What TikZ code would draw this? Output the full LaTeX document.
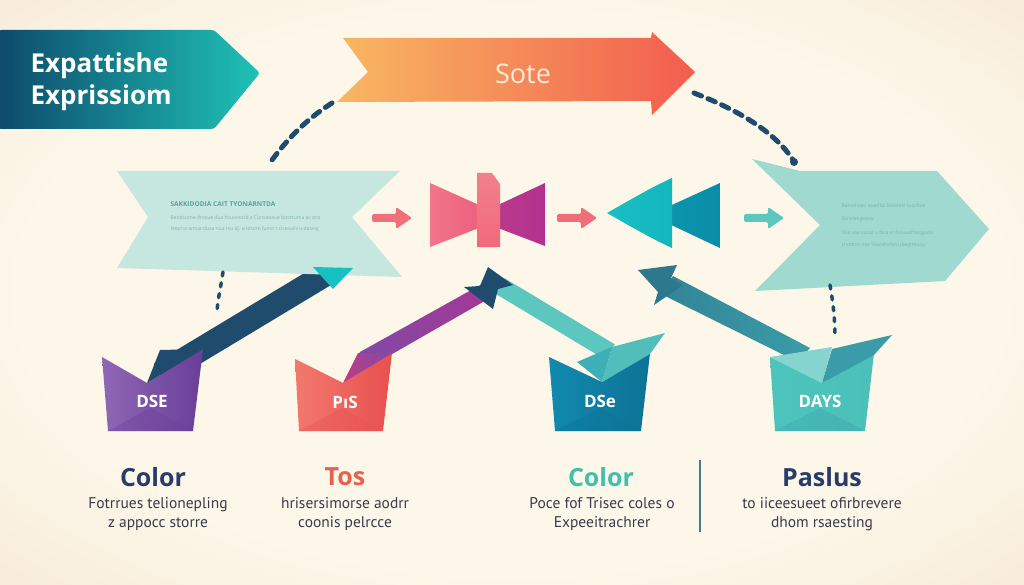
\documentclass[tikz,border=0pt]{standalone}
\usepackage{fontspec}
\setmainfont{Open Sans}
\newfontfamily\bodyfont{PT Sans}
\definecolor{bgc}{HTML}{FCF7E9}
\definecolor{bge}{HTML}{F4E2CE}
\definecolor{bgf}{HTML}{EDCDB2}
\definecolor{tealdark}{HTML}{0E4A6C}
\definecolor{tealmid}{HTML}{17A8AA}
\definecolor{teallt}{HTML}{1FC2B6}
\definecolor{orangeL}{HTML}{F8B862}
\definecolor{orangeR}{HTML}{F25D4F}
\definecolor{navy}{HTML}{1F4C6C}
\definecolor{mint}{HTML}{C6E7DF}
\definecolor{mintR}{HTML}{A0D9D0}
\definecolor{coral}{HTML}{F0707A}
\definecolor{pinkL}{HTML}{F2667C}
\definecolor{pinkC}{HTML}{F06A7A}
\definecolor{magenta}{HTML}{B1318F}
\definecolor{tealA}{HTML}{17C0C3}
\definecolor{tealB}{HTML}{0A8DA8}
\definecolor{tealArr}{HTML}{5CC7BE}
\definecolor{purpleBox}{HTML}{7B4CA8}
\definecolor{purpleDk}{HTML}{6A3E98}
\definecolor{coralBox}{HTML}{F06A5E}
\definecolor{coralDk}{HTML}{E8504E}
\definecolor{blueBox}{HTML}{1289AE}
\definecolor{blueDk}{HTML}{0C7396}
\definecolor{tealBox}{HTML}{4CC4BB}
\definecolor{tealFlap}{HTML}{3A9CA8}
\definecolor{bodytext}{HTML}{3A3A4A}
\definecolor{tinytext}{HTML}{5F9EA0}
\definecolor{headnavy}{HTML}{283C6A}
\definecolor{headteal}{HTML}{3EBFB0}
\definecolor{headcoral}{HTML}{E8604F}
\definecolor{divider}{HTML}{4C7C82}
\pgfdeclareradialshading{bgshade}{\pgfpoint{0bp}{0bp}}{color(0bp)=(bgc); color(24bp)=(bgc); color(46bp)=(bge); color(68bp)=(bgf)}
\tikzset{
  dashlink/.style={navy, line width=5pt, line cap=round, dash pattern=on 8pt off 7pt},
  dotlink/.style={navy, line width=3.5pt, line cap=round, dash pattern=on 4pt off 7pt},
  bandline/.style={line width=#1, line cap=butt},
  boxlabel/.style={text=white, font=\fontsize{17}{17}\selectfont\bfseries},
  headlabel/.style={font=\fontsize{25}{25}\selectfont\bfseries},
  bodylabel/.style={text=bodytext, font=\bodyfont\fontsize{15.5}{17}\selectfont, align=center},
  tinyhead/.style={text=tinytext, font=\fontsize{6.6}{6.6}\selectfont\bfseries, anchor=base west},
  tinyline/.style={text=tinytext!80, font=\fontsize{5}{5}\selectfont, anchor=base west},
}
\begin{document}
\begin{tikzpicture}[x=1pt,y=-1pt]
\useasboundingbox (0,0) rectangle (1024,585);
\fill[shading=bgshade] (0,0) rectangle (1024,585);

% ---- top-left teal banner
\shade[left color=tealdark, middle color=tealmid, right color=teallt, rounded corners=3pt]
  (-2,30) -- (214,30) -- (260,73) -- (214,129) -- (-2,129) -- cycle;
\node[anchor=base west, text=white, font=\fontsize{26}{26}\selectfont\bfseries] (title1) at (27,73) {Expattishe};
\node[anchor=base west, text=white, font=\fontsize{26}{26}\selectfont\bfseries] (title2) at (27,105) {Exprissiom};

% ---- orange arrow
\shade[left color=orangeL, right color=orangeR]
  (343,38) -- (651,38) -- (652,32) -- (695,72) -- (652,115) -- (651,101) -- (337,102) -- (368,72) -- cycle;
\node[text=orangeL!25!white, font=\fontsize{27}{27}\selectfont] (sote) at (523,74) {Sote};
\coordinate (oL) at (332,103);
\coordinate (oR) at (694,93);

% ---- connectors hidden under banners
\coordinate (b1a) at (160,374);
\coordinate (b1b) at (336,268);
\draw[navy, bandline=24pt] (b1a) -- (b1b);
\coordinate (b2a) at (352,372);
\coordinate (b2b) at (478,292);
\shade[left color=purpleBox, right color=magenta!80!purpleBox] (345,381) -- (360,352) -- (482,284) -- (490,298) -- cycle;
\coordinate (b3a) at (610,352);
\coordinate (b3b) at (500,286);
\draw[tealArr, bandline=18pt] (b3a) -- (b3b);
\fill[navy] (488,267) -- (513,285) -- (498,289) -- (493,309) -- (464,287) -- (480,286) -- cycle;
\coordinate (b4a) at (804,356);
\coordinate (b4b) at (668,287);
\shade[left color=tealFlap!70!navy, right color=tealFlap] (661,294) -- (673,276) -- (810,348) -- (798,362) -- cycle;
\fill[tealFlap!55!navy] (638,270) -- (677,265) -- (671,278) -- (683,285) -- (654,305) -- (658,292) -- cycle;

% ---- left mint banner
\fill[mint] (117,171) -- (400,171) -- (352,217) -- (402,277) -- (117,268) -- (148,217) -- cycle;
\fill[tealA!80!teallt] (313,267) -- (353,268) -- (333,289) -- cycle;
\node[tinyhead] (lhead) at (167,207) {SAKKIDODIA CAIT TYONARNTDA};
\node[tinyline] (l1) at (167,220) {Bendsome drosue dua hsuoreatd a Cunsaeaue bostsuma as ons};
\node[tinyline] (l2) at (167,231) {Nesmo amua dusa nua rsu dj. e Idsom fumn t cisesulis u dasing};

% ---- right mint banner
\fill[mintR] (752,159) -- (800,171) -- (937,171) -- (989,229) -- (945,281) -- (755,291) -- (820,225) -- cycle;
\node[tinyline] (r1) at (838,208) {Bensthaeo auedfal fabenrsl tucchoe};
\node[tinyline] (r2) at (838,221) {Bsnsleegessw};
\node[tinyline] (r3) at (838,234) {Ose ase susat u fara sr fosuusfnaoguds};
\node[tinyline] (r4) at (838,247) {Lrsbbrsl nse Ssucshofas ubegtmusu};

% ---- dashed links
\draw[dashlink] (oL) .. controls (305,120) and (286,141) .. (272,160);
\draw[dashlink] (oR) .. controls (738,110) and (775,132) .. (793,160);
\fill[navy] (794,162) circle (4pt);
\coordinate (rb) at (830,285);
\coordinate (rbe) at (835,337);
\draw[dotlink] (rb) .. controls (833,302) and (835,320) .. (rbe);
\coordinate (lb) at (223,272);
\coordinate (lbe) at (217,311);
\draw[dotlink] (lb) .. controls (221,286) and (218,298) .. (lbe);

% ---- small arrows
\tikzset{smallarrow/.pic={
  \fill[pic actions, rounded corners=1.5pt] (-20,-4) -- (4,-4) -- (4,-11) -- (20,0) -- (4,11) -- (4,4) -- (-20,4) -- cycle;}}
\pic[fill=coral] (sa1) at (392,218) {smallarrow};
\pic[fill=coral!85!pinkL] (sa2) at (577,218) {smallarrow};
\pic[fill=tealArr] (sa3) at (764,218) {smallarrow};

% ---- bow tie
\shade[left color=pinkL!90!white, right color=pinkL!90!magenta] (430,183) -- (479,205) -- (479,228) -- (430,247) -- cycle;
\shade[left color=magenta!85!pinkL, right color=magenta] (498,205) -- (545,183) -- (545,246) -- (498,228) -- cycle;
\shade[top color=pinkC!85!white, bottom color=pinkC] (477,173) -- (492,173) -- (500,184) -- (500,247) -- (477,247) -- cycle;
\coordinate (bow) at (488,210);

% ---- teal triangles
\shade[left color=tealB!80!tealA, right color=tealB] (650,215) -- (720,183) -- (720,248) -- cycle;
\shade[left color=tealA, right color=tealA!80!tealB] (607,213) .. controls (630,200) and (650,188) .. (672,178) -- (672,248) .. controls (650,238) and (630,226) .. (607,213) -- cycle;
\coordinate (tri) at (660,213);

% ---- boxes
\shade[left color=purpleBox!85!white, right color=purpleDk] (102,357) -- (147,383) -- (203,349) -- (193,431) -- (108,431) -- cycle;
\fill[purpleDk, opacity=0.35] (108,431) -- (150,408) -- (193,431) -- cycle;
\fill[navy] (147,383) -- (160,350) -- (203,349) -- cycle;
\node[boxlabel] (dse) at (152,401) {DSE};
\shade[left color=coralBox!90!white, right color=coralDk] (295,359) -- (343,383) -- (392,353) -- (383,431) -- (299,431) -- cycle;
\fill[coralDk, opacity=0.35] (299,431) -- (342,408) -- (383,431) -- cycle;
\shade[left color=magenta!80!coralBox, right color=purpleBox] (343,383) -- (358,353) -- (392,353) -- cycle;
\node[boxlabel] (pis) at (345,402) {PıS};
\shade[left color=blueBox, right color=blueDk] (549,357) -- (602,382) -- (650,353) -- (641,431) -- (555,431) -- cycle;
\fill[blueDk, opacity=0.4] (555,431) -- (600,408) -- (641,431) -- cycle;
\fill[tealArr!85!blueBox] (612,347) -- (665,333) -- (650,354) -- (602,382) -- cycle;
\fill[tealArr!60!blueBox] (577,362) -- (612,347) -- (602,382) -- cycle;
\node[boxlabel] (dse2) at (600,401) {DSe};
\shade[left color=tealBox, right color=tealBox!90!tealFlap] (770,357) -- (822,383) -- (874,353) -- (865,431) -- (775,431) -- cycle;
\fill[tealFlap, opacity=0.3] (775,431) -- (820,408) -- (865,431) -- cycle;
\fill[tealArr!75!white] (770,357) -- (832,347) -- (822,383) -- cycle;
\fill[tealFlap] (832,349) -- (892,335) -- (874,355) -- (822,383) -- cycle;
\node[boxlabel] (days) at (820,401) {DAYS};

% ---- bottom texts
\node[headlabel, text=headnavy] (h1) at (153,477) {Color};
\node[bodylabel] (t1) at (158,514) {Fotrrues telionepling\\[2pt]z appocc storre};
\node[headlabel, text=headcoral] (h2) at (345,477) {Tos};
\node[bodylabel] (t2) at (345,514) {hrisersimorse aodrr\\[2pt]coonis pelrcce};
\node[headlabel, text=headteal] (h3) at (601,477) {Color};
\node[bodylabel] (t3) at (602,514) {Poce fof Trisec coles o\\[2pt]Expeeitrachrer};
\node[headlabel, text=headnavy] (h4) at (822,477) {Paslus};
\node[bodylabel] (t4) at (822,514) {to iiceesueet ofirbrevere\\[2pt]dhom rsaesting};
\coordinate (dv1) at (700,460);
\coordinate (dv2) at (700,532);
\draw[divider, line width=1.5pt] (dv1) -- (dv2);
\end{tikzpicture}
\end{document}
